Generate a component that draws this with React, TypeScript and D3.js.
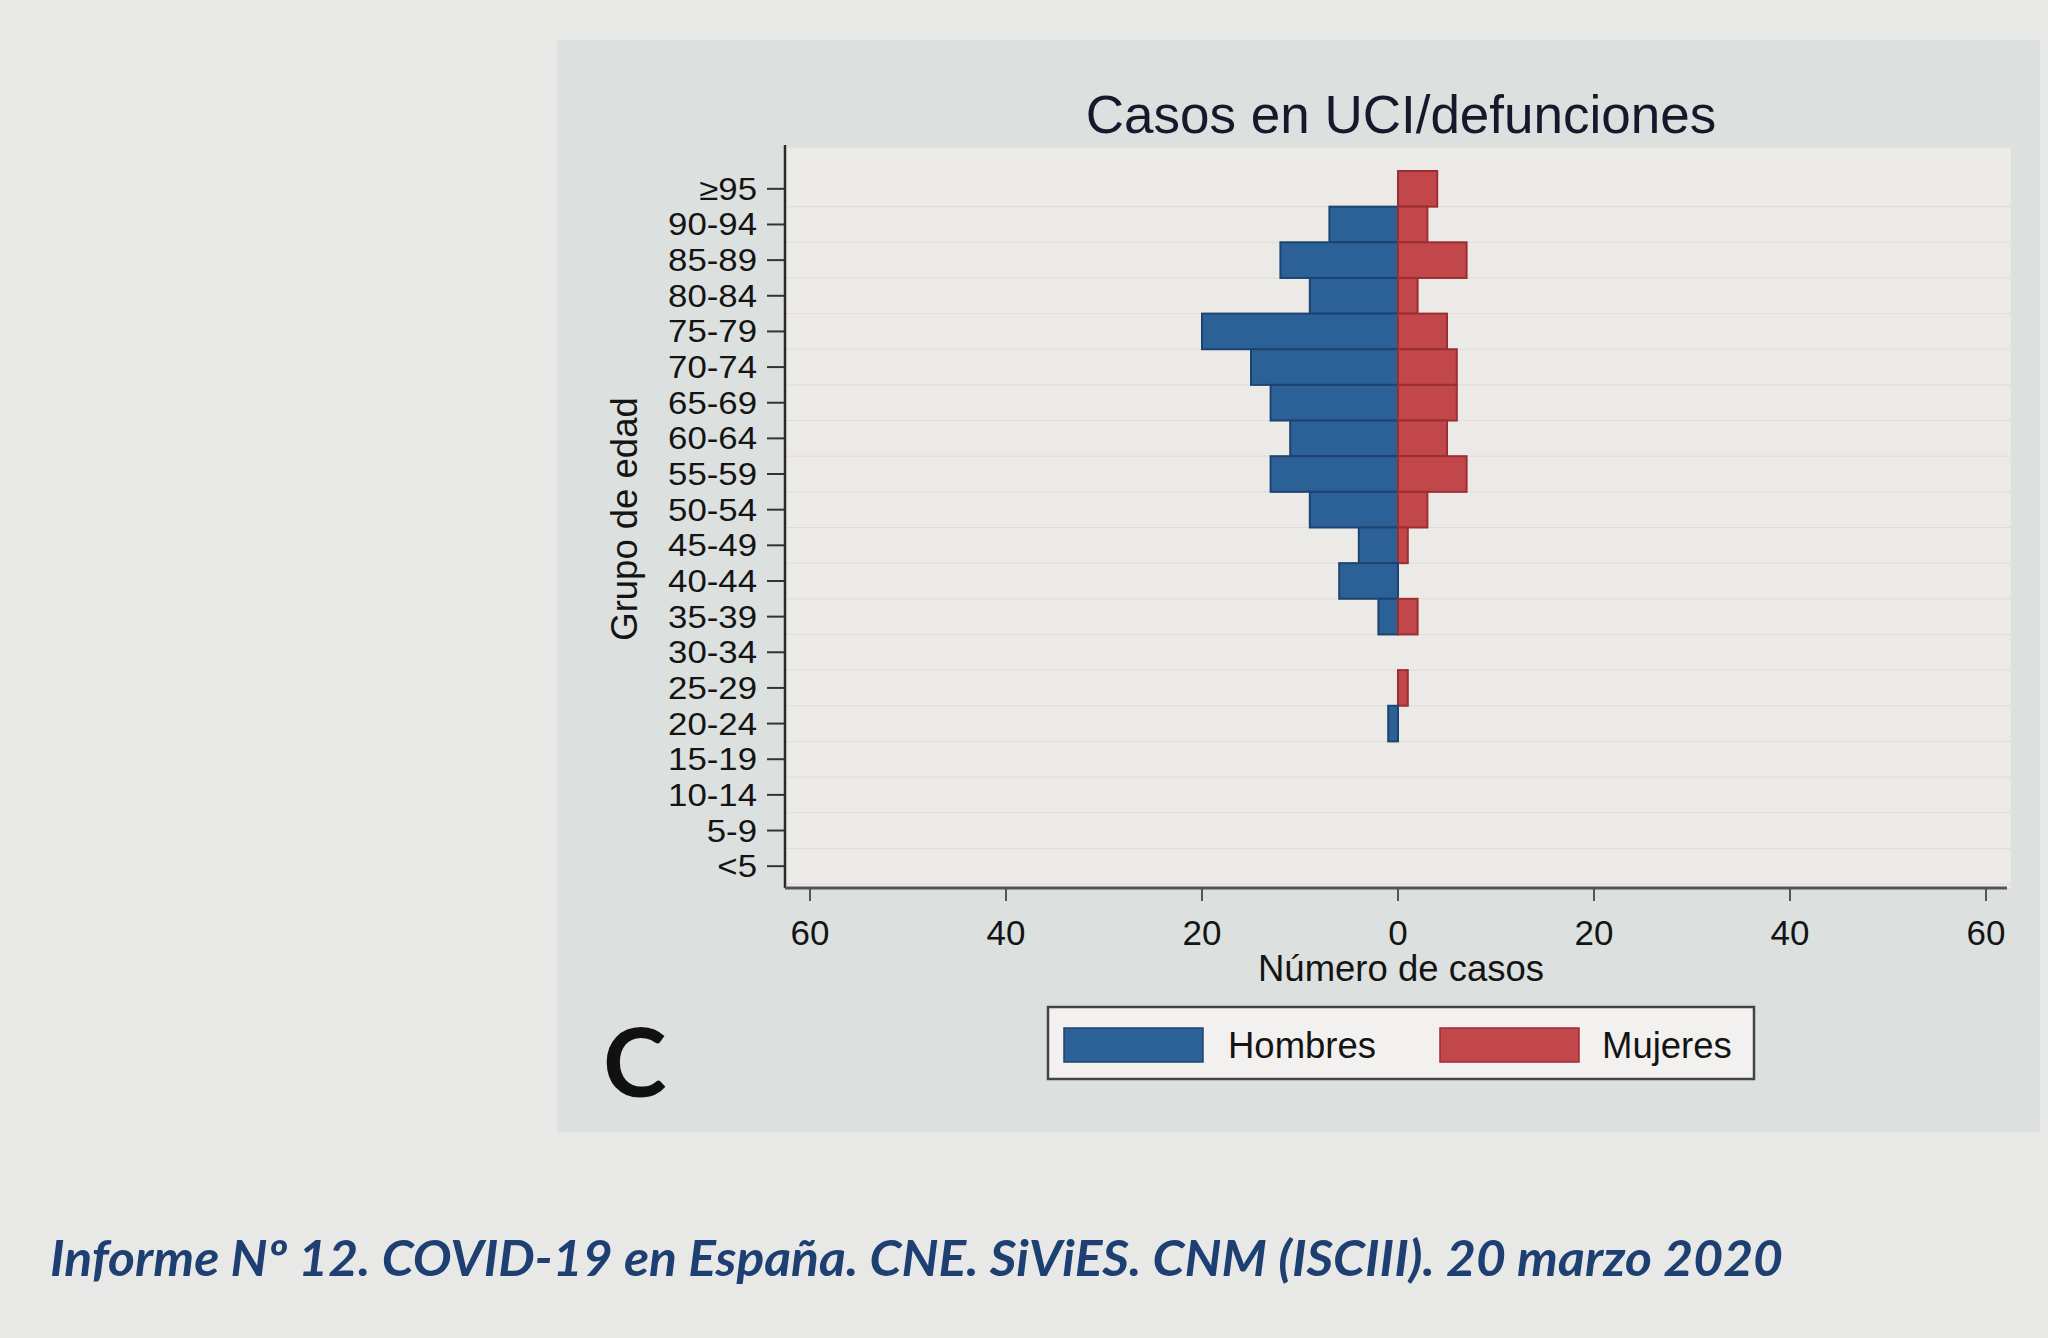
import React from "react";
import * as d3 from "d3";

const ageGroups = ["≥95","90-94","85-89","80-84","75-79","70-74","65-69","60-64","55-59","50-54","45-49","40-44","35-39","30-34","25-29","20-24","15-19","10-14","5-9","<5"];
const hombres = [0,7,12,9,20,15,13,11,13,9,4,6,2,0,0,1,0,0,0,0];
const mujeres = [4,3,7,2,5,6,6,5,7,3,1,0,2,0,1,0,0,0,0,0];
const xTicks = [-60,-40,-20,0,20,40,60];
const seriesNames = ["Hombres","Mujeres"];

const W = 2048, H = 1338;
const plot = { left: 785, right: 2011, top: 148, bottom: 888 };
const BLUE = "#2c6197", BLUE_D = "#1d4470";
const RED = "#c2474b", RED_D = "#9b2e33";
const SANS = "'Liberation Sans', Arial, sans-serif";

export default function App() {
  const x = d3.scaleLinear().domain([-60, 60]).range([810, 1986]);
  const y = d3.scaleBand<string>().domain(ageGroups).range([171, 884]).padding(0);
  const bw = y.bandwidth();

  return (
    <svg width={W} height={H} style={{ position: "absolute", left: 0, top: 0, display: "block" }}>
      <rect x={0} y={0} width={W} height={H} fill="#e8e8e6" />
      {/* panel */}
      <rect x={557} y={40} width={1483} height={1092} fill="#dce0df" />
      {/* plot area */}
      <rect x={plot.left} y={plot.top} width={plot.right - plot.left} height={plot.bottom - plot.top} fill="#eceae7" />
      {ageGroups.map((g) => (
        <line key={"g" + g} x1={plot.left} x2={plot.right} y1={(y(g) ?? 0) + bw} y2={(y(g) ?? 0) + bw} stroke="#dedcd9" strokeWidth={1} />
      ))}
      {/* title */}
      <text x={1401} y={133} textAnchor="middle" fontFamily={SANS} fontSize={53} fill="#15192b">Casos en UCI/defunciones</text>

      {/* bars */}
      {ageGroups.map((g, i) => {
        const yy = y(g) ?? 0;
        const m = hombres[i];
        const f = mujeres[i];
        return (
          <g key={g}>
            {m > 0 && (
              <rect x={x(-m)} y={yy} width={x(0) - x(-m)} height={bw} fill={BLUE} stroke={BLUE_D} strokeWidth={2} />
            )}
            {f > 0 && (
              <rect x={x(0)} y={yy} width={x(f) - x(0)} height={bw} fill={RED} stroke={RED_D} strokeWidth={2} />
            )}
          </g>
        );
      })}

      {/* y axis */}
      <line x1={plot.left} x2={plot.left} y1={plot.top - 3} y2={plot.bottom} stroke="#2a2a2a" strokeWidth={2.5} />
      {ageGroups.map((g) => {
        const cy = (y(g) ?? 0) + bw / 2;
        return (
          <g key={"t" + g}>
            <line x1={767} x2={plot.left} y1={cy} y2={cy} stroke="#333" strokeWidth={2} />
            <text transform={`translate(757,${cy + 11}) scale(1.14,1)`} textAnchor="end" fontFamily={SANS} fontSize={30.5} fill="#141414">{g}</text>
          </g>
        );
      })}
      <text transform={`translate(637,519) rotate(-90)`} textAnchor="middle" fontFamily={SANS} fontSize={36.5} fill="#141414">Grupo de edad</text>

      {/* x axis */}
      <line x1={plot.left} x2={2007} y1={plot.bottom} y2={plot.bottom} stroke="#555" strokeWidth={3} />
      {xTicks.map((t) => (
        <g key={"x" + t}>
          <line x1={x(t)} x2={x(t)} y1={plot.bottom} y2={plot.bottom + 13} stroke="#555" strokeWidth={2} />
          <text x={x(t)} y={945} textAnchor="middle" fontFamily={SANS} fontSize={35} fill="#141414">{Math.abs(t)}</text>
        </g>
      ))}
      <text x={1401} y={981} textAnchor="middle" fontFamily={SANS} fontSize={36.5} fill="#141414">Número de casos</text>

      {/* legend */}
      <rect x={1048} y={1007} width={706} height={72} fill="#f2f1ef" stroke="#444" strokeWidth={2.5} />
      <rect x={1064} y={1028} width={139} height={34} fill={BLUE} stroke={BLUE_D} strokeWidth={1.5} />
      <text x={1228} y={1058} fontFamily={SANS} fontSize={36.5} fill="#141414">{seriesNames[0]}</text>
      <rect x={1440} y={1028} width={139} height={34} fill={RED} stroke={RED_D} strokeWidth={1.5} />
      <text x={1602} y={1058} fontFamily={SANS} fontSize={36.5} fill="#141414">{seriesNames[1]}</text>

      {/* panel letter */}
      <text x={603} y={1097} fontFamily="Lato, 'Open Sans', sans-serif" fontWeight={700} fontSize={96} fill="#111">C</text>

      {/* footer */}
      <text x={50} y={1276} fontFamily="Lato, 'Open Sans', sans-serif" fontWeight={700} fontStyle="italic" fontSize={50} fill="#1d3f72" textLength={1733} lengthAdjust="spacingAndGlyphs">Informe Nº 12. COVID-19 en España. CNE. SiViES. CNM (ISCIII). 20 marzo 2020</text>
    </svg>
  );
}
